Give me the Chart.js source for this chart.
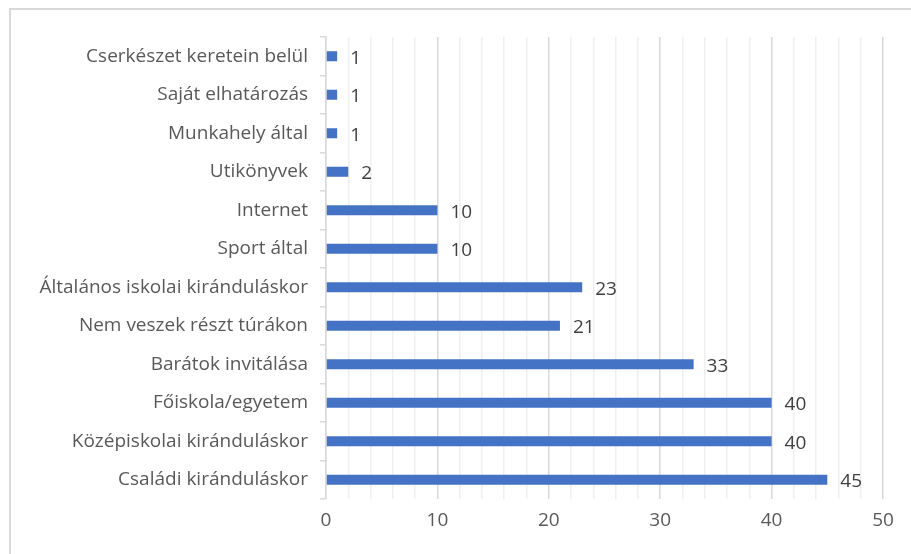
<!DOCTYPE html>
<html>
<head>
<meta charset="utf-8">
<script src="https://cdn.jsdelivr.net/npm/chart.js@4/dist/chart.umd.min.js"></script>
<style>
    html, body { margin: 0; padding: 0; background: #fff; }
    #wrap { position: relative; width: 911px; height: 554px; overflow: hidden; }
    #frame { position: absolute; left: 9px; top: 8px; width: 960px; height: 600px; border: 2px solid #d9d9d9; box-sizing: border-box; }
    #chart { position: absolute; left: 0; top: 0; }
</style>
</head>
<body>
<div id="wrap">
    <div id="frame"></div>
    <canvas id="chart" width="911" height="554"></canvas>
</div>
<script>
(function () {
    'use strict';

    var categories = [
        'Cserkészet keretein belül',
        'Saját elhatározás',
        'Munkahely által',
        'Utikönyvek',
        'Internet',
        'Sport által',
        'Általános iskolai kiránduláskor',
        'Nem veszek részt túrákon',
        'Barátok invitálása',
        'Főiskola/egyetem',
        'Középiskolai kiránduláskor',
        'Családi kiránduláskor'
    ];
    var values = [1, 1, 1, 2, 10, 10, 23, 21, 33, 40, 40, 45];
    var xTicks = [0, 10, 20, 30, 40, 50];

    var FONT = '"Open Sans", Lato, sans-serif';

    // value labels to the right of each bar
    var barLabels = {
        id: 'barLabels',
        afterDatasetsDraw: function (chart) {
            var ctx = chart.ctx;
            var meta = chart.getDatasetMeta(0);
            ctx.save();
            ctx.font = '19px ' + FONT;
            ctx.fillStyle = '#404040';
            ctx.textAlign = 'left';
            ctx.textBaseline = 'middle';
            meta.data.forEach(function (bar, i) {
                ctx.fillText(String(values[i]), bar.x + 13, bar.y + 2);
            });
            ctx.restore();
        }
    };

    new Chart(document.getElementById('chart'), {
        type: 'bar',
        data: {
            labels: categories,
            datasets: [{
                data: values,
                backgroundColor: '#4472C4',
                borderWidth: 0,
                barPercentage: 0.52,
                categoryPercentage: 0.5
            }]
        },
        options: {
            indexAxis: 'y',
            responsive: false,
            animation: false,
            layout: { padding: { top: 37, right: 28, left: 0, bottom: 0 } },
            plugins: { legend: { display: false }, tooltip: { enabled: false } },
            scales: {
                x: {
                    min: 0,
                    max: 50,
                    afterFit: function (scale) { scale.height = 55; },
                    afterBuildTicks: function (scale) {
                        var t = [];
                        for (var v = 0; v <= 50; v += 2) t.push({ value: v });
                        scale.ticks = t;
                    },
                    ticks: {
                        autoSkip: false,
                        maxRotation: 0,
                        padding: 10,
                        color: '#595959',
                        font: { family: FONT, size: 19 },
                        callback: function (v) { return xTicks.indexOf(v) >= 0 ? String(v) : ''; }
                    },
                    grid: {
                        drawTicks: false,
                        color: function (c) { return c.tick && c.tick.value % 10 === 0 ? '#d9d9d9' : '#efefef'; },
                        lineWidth: 1.5
                    },
                    border: { display: false }
                },
                y: {
                    afterFit: function (scale) { scale.width = 326; },
                    ticks: {
                        padding: 12,
                        color: '#595959',
                        font: { family: FONT, size: 19 }
                    },
                    grid: {
                        offset: true,
                        drawOnChartArea: false,
                        drawTicks: true,
                        tickLength: 6,
                        color: '#d9d9d9',
                        lineWidth: 1.5
                    },
                    border: { display: true, color: '#d9d9d9', width: 1.5 }
                }
            }
        },
        plugins: [barLabels]
    });
})();
</script>
</body>
</html>
